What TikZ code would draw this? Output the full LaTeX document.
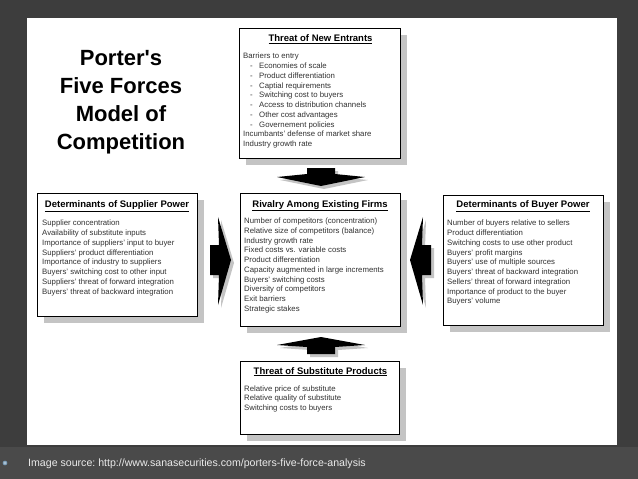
\documentclass[tikz,border=0pt]{standalone}
\usepackage{fontspec}
\setmainfont{Liberation Sans}
\newfontfamily\capfont{Liberation Sans}
\usetikzlibrary{shadows}
\begin{document}
\begin{tikzpicture}[x=1pt, y=-1pt]
  % Colors
  \definecolor{bgcol}{RGB}{61,61,61}
  \definecolor{bandcol}{RGB}{74,74,74}
  \definecolor{shadecol}{RGB}{196,196,196}
  \definecolor{txtcol}{RGB}{50,50,50}
  \definecolor{capcol}{RGB}{235,235,235}
  \definecolor{dotcol}{RGB}{110,150,180}
  %
  \def\ls{9.75}
  \def\subline#1{\makebox[9pt][l]{-}#1}
  %
  \tikzset{
    forcebox/.style={draw, line width=1.1pt, fill=white, inner sep=0pt, anchor=north west,
                     drop shadow={shadow xshift=6pt, shadow yshift=-6pt, fill=shadecol, opacity=1}},
    forcetitle/.style={anchor=base, inner sep=0pt, font=\fontsize{9.5}{11}\selectfont\bfseries},
    forceline/.style={anchor=base west, inner sep=0pt, text=txtcol, font=\fontsize{7.8}{9}\selectfont},
    bigtitle/.style={anchor=base, inner sep=0pt, font=\fontsize{22}{26}\selectfont\bfseries},
    blockarrow/.style={fill=black},
    arrowshade/.style={fill=shadecol},
  }
  %
  %%% BACKGROUND %%%
  \useasboundingbox (0,0) rectangle (638,479);
  \fill[bgcol] (0,0) rectangle (638,479);
  \fill[bandcol] (0,447) rectangle (638,479);
  \fill[white] (27,18) rectangle (617,445);
  %
  %%% TITLE %%%
  \foreach \n/\txt/\yy in {0/{Porter\textquotesingle s}/65.5, 1/{Five Forces}/93.5,
                          2/{Model of}/121.5, 3/{Competition}/149.5} {
    \node[bigtitle] (title-\n) at (121, \yy) {\txt};
  }
  %
  %%% ARROWS %%%
  \foreach \dx/\st in {3/arrowshade, 0/blockarrow} {
    \begin{scope}[shift={(\dx,\dx)}]
      % down into rivalry
      \fill[\st] (307,168) -- (335,168) -- (335,174) -- (365,177) -- (321,186)
                 -- (277,177) -- (307,174) -- cycle;
      % up into rivalry
      \fill[\st] (321,337) -- (365,345) -- (335,347) -- (335,354) -- (307,354)
                 -- (307,347) -- (277,345) -- cycle;
      % from supplier
      \fill[\st] (210,245) -- (219,245) -- (218,217) -- (231,260) -- (218,305)
                 -- (219,275) -- (210,275) -- cycle;
      % from buyer
      \fill[\st] (431,245) -- (422,245) -- (423,217) -- (410,260) -- (423,305)
                 -- (422,275) -- (431,275) -- cycle;
    \end{scope}
  }
  %
  %%% BOXES %%%
  % --- Threat of new entrants ---
  \node[forcebox, minimum width=161pt, minimum height=130pt] (entrants) at (239, 28) {};
  \node[forcetitle] (entrants-t) at (320.5, 41.4) {\underline{Threat of New Entrants}};
  \foreach \n/\xx/\txt in {
    0/243/{Barriers to entry}, 1/250/{\subline{Economies of scale}},
    2/250/{\subline{Product differentiation}}, 3/250/{\subline{Captial requirements}},
    4/250/{\subline{Switching cost to buyers}}, 5/250/{\subline{Access to distribution channels}},
    6/250/{\subline{Other cost advantages}}, 7/250/{\subline{Governement policies}},
    8/243/{Incumbants' defense of market share}, 9/243/{Industry growth rate}%
  } {
    \node[forceline] (entrants-\n) at (\xx, {58.8+\n*\ls}) {\txt};
  }
  %
  % --- Supplier power ---
  \node[forcebox, minimum width=160pt, minimum height=123pt] (supplier) at (37, 193) {};
  \node[forcetitle] (supplier-t) at (117, 207.4) {\underline{Determinants of Supplier Power}};
  \foreach \n/\txt in {
    0/{Supplier concentration}, 1/{Availability of substitute inputs},
    2/{Importance of suppliers' input to buyer}, 3/{Suppliers' product differentiation},
    4/{Importance of industry to suppliers}, 5/{Buyers' switching cost to other input},
    6/{Suppliers' threat of forward integration}, 7/{Buyers' threat of backward integration}%
  } {
    \node[forceline] (supplier-\n) at (42, {225.8+\n*\ls}) {\txt};
  }
  %
  % --- Rivalry ---
  \node[forcebox, minimum width=160pt, minimum height=133pt] (rivalry) at (240, 193) {};
  \node[forcetitle] (rivalry-t) at (320, 207.1) {\underline{Rivalry Among Existing Firms}};
  \foreach \n/\txt in {
    0/{Number of competitors (concentration)}, 1/{Relative size of competitors (balance)},
    2/{Industry growth rate}, 3/{Fixed costs vs. variable costs},
    4/{Product differentiation}, 5/{Capacity augmented in large increments},
    6/{Buyers' switching costs}, 7/{Diversity of competitors},
    8/{Exit barriers}, 9/{Strategic stakes}%
  } {
    \node[forceline] (rivalry-\n) at (244, {223.5+\n*\ls}) {\txt};
  }
  %
  % --- Buyer power ---
  \node[forcebox, minimum width=160pt, minimum height=130pt] (buyer) at (443, 195) {};
  \node[forcetitle] (buyer-t) at (523, 207.4) {\underline{Determinants of Buyer Power}};
  \foreach \n/\txt in {
    0/{Number of buyers relative to sellers}, 1/{Product differentiation},
    2/{Switching costs to use other product}, 3/{Buyers' profit margins},
    4/{Buyers' use of multiple sources}, 5/{Buyers' threat of backward integration},
    6/{Sellers' threat of forward integration}, 7/{Importance of product to the buyer},
    8/{Buyers' volume}%
  } {
    \node[forceline] (buyer-\n) at (447, {225.8+\n*\ls}) {\txt};
  }
  %
  % --- Substitutes ---
  \node[forcebox, minimum width=159pt, minimum height=73pt] (substitute) at (240, 361) {};
  \node[forcetitle] (substitute-t) at (320.5, 374.1) {\underline{Threat of Substitute Products}};
  \foreach \n/\txt in {
    0/{Relative price of substitute}, 1/{Relative quality of substitute},
    2/{Switching costs to buyers}%
  } {
    \node[forceline] (substitute-\n) at (244, {391.1+\n*\ls}) {\txt};
  }
  %
  %%% SOURCE LINE %%%
  \node[circle, draw=dotcol, fill=dotcol!60!white, line width=0.6pt, inner sep=0pt,
        minimum size=4pt] (bullet) at (5, 463) {};
  \node[anchor=base west, inner sep=0pt, text=capcol,
        font=\capfont\fontsize{10.6}{13}\selectfont\frenchspacing]
    (source) at (28, 466.5) {Image source: http://www.sanasecurities.com/porters-five-force-analysis};
\end{tikzpicture}
\end{document}
